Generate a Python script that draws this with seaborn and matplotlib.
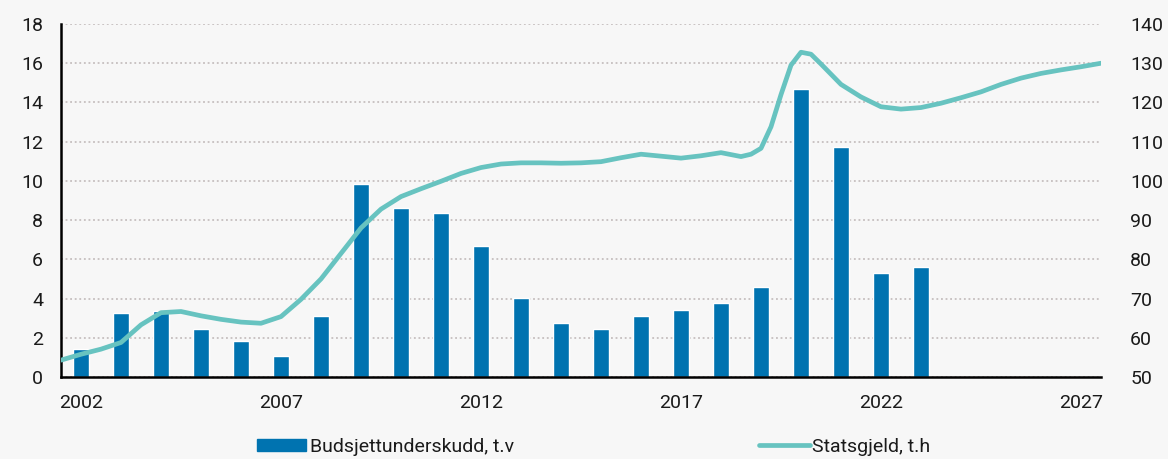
import matplotlib
matplotlib.use("Agg")
import matplotlib.pyplot as plt
import matplotlib.patches as mpatches
import matplotlib.lines as mlines
import pandas as pd
import seaborn as sns

# Budsjettunderskudd (venstre akse)
aar = [2002, 2003, 2004, 2005, 2006, 2007, 2008, 2009, 2010, 2011, 2012, 2013,
       2014, 2015, 2016, 2017, 2018, 2019, 2020, 2021, 2022, 2023]
underskudd = [1.45, 3.28, 3.38, 2.47, 1.82, 1.09, 3.13, 9.83, 8.64, 8.37, 6.70, 4.03,
              2.76, 2.47, 3.13, 3.40, 3.76, 4.59, 14.69, 11.75, 5.32, 5.60]

# Statsgjeld (hoyre akse)
gjeld_tid = [2001.5, 2002.0, 2002.5, 2003.0, 2003.5, 2004.0, 2004.5, 2005.0, 2005.5,
             2006.0, 2006.5, 2007.0, 2007.5, 2008.0, 2008.5, 2009.0, 2009.5, 2010.0,
             2010.5, 2011.0, 2011.5, 2012.0, 2012.5, 2013.0, 2013.5, 2014.0, 2014.5,
             2015.0, 2015.5, 2016.0, 2016.5, 2017.0, 2017.5, 2018.0, 2018.5, 2018.75,
             2019.0, 2019.25, 2019.5, 2019.75, 2020.0, 2020.25, 2020.5, 2020.75, 2021.0,
             2021.5, 2022.0, 2022.5, 2023.0, 2023.5, 2024.0, 2024.5, 2025.0, 2025.5,
             2026.0, 2026.5, 2027.0, 2027.5]
gjeld = [54.3, 55.8, 57.1, 58.8, 63.3, 66.4, 66.7, 65.6, 64.7,
         64.0, 63.7, 65.4, 69.8, 75.0, 81.5, 88.0, 92.8, 96.0,
         98.0, 99.9, 101.9, 103.4, 104.3, 104.6, 104.6, 104.5, 104.6,
         104.9, 105.9, 106.8, 106.3, 105.8, 106.4, 107.2, 106.2, 106.8,
         108.3, 113.8, 122.0, 129.5, 132.8, 132.3, 129.8, 127.2, 124.6,
         121.4, 118.9, 118.3, 118.7, 119.8, 121.2, 122.7, 124.6, 126.2,
         127.4, 128.3, 129.1, 130.0]

x_ticks = [2002, 2007, 2012, 2017, 2022, 2027]
venstre_ticks = [0, 2, 4, 6, 8, 10, 12, 14, 16, 18]
hoyre_ticks = [50, 60, 70, 80, 90, 100, 110, 120, 130, 140]

navn_bar = "Budsjettunderskudd, t.v"
navn_linje = "Statsgjeld, t.h"

farge_bar = "#0073b0"
farge_linje = "#67c3c0"
bakgrunn = "#f7f7f7"
tekst = "#1a1a1a"

sns.set_theme(style="white")
plt.rcParams["font.family"] = ["Roboto", "DejaVu Sans"]

df_bar = pd.DataFrame({"aar": aar, "underskudd": underskudd})
df_linje = pd.DataFrame({"tid": gjeld_tid, "gjeld": gjeld})

fig = plt.figure(figsize=(11.68, 4.59), dpi=100, facecolor=bakgrunn)
ax = fig.add_axes([61 / 1168, 1 - 377 / 459, 1040 / 1168, 353 / 459])
ax.set_facecolor(bakgrunn)

sns.barplot(data=df_bar, x="aar", y="underskudd", native_scale=True, width=0.42,
            color=farge_bar, saturation=1, errorbar=None, ax=ax, zorder=2)

ax2 = ax.twinx()
sns.lineplot(data=df_linje, x="tid", y="gjeld", color=farge_linje, linewidth=3.4,
             ax=ax2, zorder=3)
ax2.lines[0].set_solid_joinstyle("round")

ax.set_xlim(2001.5, 2027.5)
ax.set_ylim(0, 18)
ax2.set_ylim(50, 140)
ax.set_xticks(x_ticks)
ax.set_xticklabels([str(t) for t in x_ticks])
ax.set_yticks(venstre_ticks)
ax2.set_yticks(hoyre_ticks)

ax.grid(True, axis="y", linestyle=(0, (1.2, 1.8)), color="#bdb5b5", linewidth=1.1)
ax.set_axisbelow(True)

for a in (ax, ax2):
    a.set_xlabel("")
    a.set_ylabel("")
    for s in a.spines.values():
        s.set_visible(False)

ax.spines["left"].set_visible(True)
ax.spines["bottom"].set_visible(True)
ax.spines["left"].set_color("black")
ax.spines["bottom"].set_color("black")
ax.spines["left"].set_linewidth(1.8)
ax.spines["bottom"].set_linewidth(1.8)
ax.spines["bottom"].set_zorder(5)

ax.tick_params(axis="x", length=0, pad=12, labelsize=14, labelcolor=tekst)
ax.tick_params(axis="y", length=0, pad=13, labelsize=14, labelcolor=tekst)
ax2.tick_params(axis="y", length=0, pad=21, labelsize=14, labelcolor=tekst)
for lab in ax2.get_yticklabels():
    lab.set_horizontalalignment("left")

h_bar = mpatches.Patch(color=farge_bar, label=navn_bar)
h_linje = mlines.Line2D([], [], color=farge_linje, linewidth=3.4, label=navn_linje)

# legenden ligger helt nede, men innenfor kanten
fig.legend(handles=[h_bar], loc="center left", bbox_to_anchor=(257 / 1168, 0.026),
           frameon=False, fontsize=14, handlelength=2.5, handleheight=0.6,
           handletextpad=0.2, borderpad=0, borderaxespad=0, labelcolor=tekst)
fig.legend(handles=[h_linje], loc="center left", bbox_to_anchor=(759 / 1168, 0.026),
           frameon=False, fontsize=14, handlelength=2.6,
           handletextpad=0.15, borderpad=0, borderaxespad=0, labelcolor=tekst)

fig.savefig("out.png", dpi=100, facecolor=bakgrunn)
